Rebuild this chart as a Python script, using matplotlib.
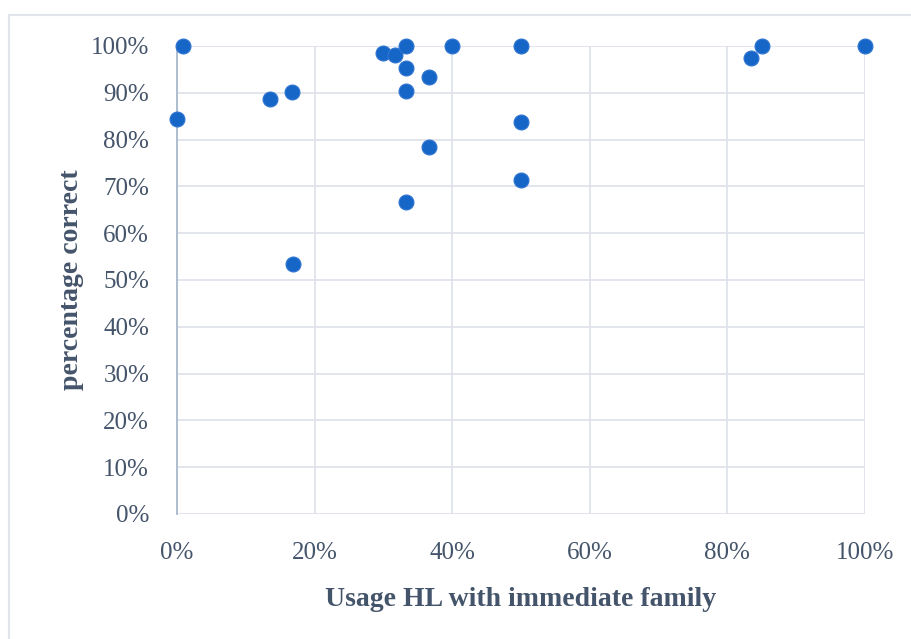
import matplotlib.pyplot as plt
from matplotlib.patches import Rectangle
from matplotlib.ticker import PercentFormatter

# usage of HL with immediate family (x) vs. percentage correct (y)
usage = [0.9, 0.0, 13.5, 16.7, 16.9, 30.0, 31.7, 33.3, 33.3, 33.3, 33.3,
         36.7, 36.7, 40.0, 50.0, 50.0, 50.0, 83.4, 85.0, 100.0]
correct = [100.0, 84.3, 88.7, 90.2, 53.4, 98.5, 98.1, 100.0, 95.4, 90.4, 66.6,
           93.3, 78.5, 100.0, 100.0, 83.8, 71.3, 97.4, 100.0, 100.0]

x_ticks = [0, 20, 40, 60, 80, 100]
y_ticks = [0, 10, 20, 30, 40, 50, 60, 70, 80, 90, 100]

text_col = '#44546a'
grid_col = '#dfe3e9'

plt.rcParams['font.family'] = ['Liberation Serif', 'DejaVu Serif']

fig = plt.figure(figsize=(9.12, 6.39), dpi=100)
ax = fig.add_axes([177 / 912, 1 - 514 / 639, (865 - 177) / 912, (514 - 46) / 639])

# light outline of the chart area
fig.patches.append(Rectangle((9 / 912, -0.1), 1.2, 1 - 15 / 639 + 0.1,
                             transform=fig.transFigure, fill=False,
                             edgecolor='#e2e6eb', linewidth=1.5))

ax.scatter(usage, correct, s=115, color='#1666c8', edgecolor='#2f74d0',
           linewidth=0.8, zorder=3, clip_on=False)

ax.set_xlim(0, 100)
ax.set_ylim(0, 100)
ax.set_xticks(x_ticks)
ax.set_yticks(y_ticks)
ax.xaxis.set_major_formatter(PercentFormatter(decimals=0))
ax.yaxis.set_major_formatter(PercentFormatter(decimals=0))
ax.grid(True, color=grid_col, linewidth=1.3, zorder=0)
ax.set_axisbelow(True)

for s in ['top', 'right', 'bottom']:
    ax.spines[s].set_visible(False)
ax.spines['left'].set_color('#a9b8cc')
ax.spines['left'].set_linewidth(1.3)

ax.tick_params(length=0, labelsize=18, colors=text_col)
ax.tick_params(axis='x', pad=20)
ax.tick_params(axis='y', pad=20)

ax.set_xlabel('Usage HL with immediate family', fontsize=20, fontweight='bold',
              color=text_col, labelpad=17)
ax.set_ylabel('percentage correct', fontsize=20, fontweight='bold',
              color=text_col, labelpad=5)

fig.savefig('out.png', dpi=100)
